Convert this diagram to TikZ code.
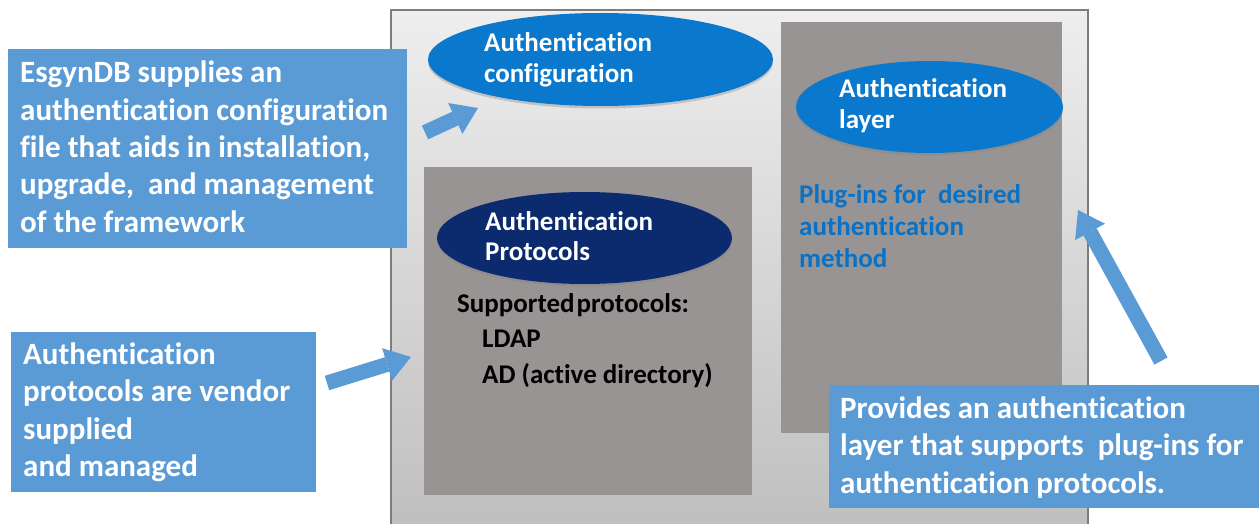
\documentclass[tikz,border=0pt]{standalone}
\usepackage{fontspec}
\setmainfont{Carlito}[Ligatures=NoCommon]
\usetikzlibrary{arrows.meta,shapes.geometric,shadows}

\definecolor{calloutblue}{HTML}{5B9BD5}
\definecolor{ovalblue}{HTML}{0A78CC}
\definecolor{ovalnavy}{HTML}{0B2B6E}
\definecolor{panelgray}{RGB}{152,148,147}
\definecolor{frameedge}{RGB}{125,125,125}
\definecolor{frametop}{RGB}{238,238,238}
\definecolor{framebottom}{RGB}{190,190,190}
\definecolor{pluginblue}{HTML}{0A72C6}

\begin{document}
\begin{tikzpicture}[x=1pt,y=-1pt,
  box/.style={rectangle, inner sep=0pt, outer sep=0pt, anchor=north west},
  callout/.style={box, fill=calloutblue},
  panel/.style={box, fill=panelgray},
  oval/.style={ellipse, inner sep=0pt, outer sep=0pt,
    drop shadow={shadow xshift=0pt, shadow yshift=-2.5pt, opacity=0.35}},
  % multi-line texts are placed by the baseline of their last line
  notetext/.style={anchor=base west, inner sep=0pt, align=left, text=white,
    font=\bfseries\fontsize{31}{37.3}\selectfont},
  ovaltext/.style={anchor=base west, inner sep=0pt, align=left, text=white,
    font=\bfseries\fontsize{27}{30.5}\selectfont},
  blockarrow/.style={draw=calloutblue, line width=15pt,
    -{Triangle[width=34pt,length=25pt,line width=0pt]}}]

\useasboundingbox (0,0) rectangle (1259,524);
\clip (0,0) rectangle (1259,524);

% outer framework panel
\node[box, draw=frameedge, line width=1.5pt, top color=frametop,
  bottom color=framebottom, minimum width=697pt, minimum height=530pt]
  (frame) at (391,10) {};

% inner grey panels
\node[panel, minimum width=328pt, minimum height=328pt] (protopanel) at (424,167) {};
\node[panel, minimum width=281pt, minimum height=411pt] (layerpanel) at (781,22) {};

% ovals
\node[oval, fill=ovalblue, minimum width=345pt, minimum height=93pt]
  (cfgoval) at (600.5,59.5) {};
\node[oval, fill=ovalblue, minimum width=267pt, minimum height=92pt]
  (layeroval) at (929.5,107) {};
\node[oval, fill=ovalnavy, minimum width=295pt, minimum height=92pt]
  (protooval) at (584.5,238) {};

\node[ovaltext] (cfgtext) at (484,82.5) {Authentication\\configuration};
\node[ovaltext] (layertext) at (839,128.5) {Authentication\\layer};
\node[ovaltext] (prototext) at (485,260.5) {Authentication\\Protocols};

% panel contents
\node[anchor=base west, inner sep=0pt, align=left, text=black,
  font=\bfseries\fontsize{27}{35.5}\selectfont] (protolist) at (457,383)
  {Supported\hspace{2pt}protocols:\\\hspace*{25pt}LDAP\\\hspace*{25pt}AD (active directory)};
\node[anchor=base west, inner sep=0pt, align=left, text=pluginblue,
  font=\bfseries\fontsize{27}{32}\selectfont] (plugtext) at (799,267)
  {Plug-ins for~ desired\\authentication\\method};

% callout boxes
\node[callout, minimum width=399pt, minimum height=199pt] (cfgnote) at (8,49) {};
\node[callout, minimum width=305pt, minimum height=160pt] (protonote) at (11,332) {};
\node[callout, minimum width=440pt, minimum height=123pt] (layernote) at (829,385) {};

\node[notetext] (cfgnotetext) at (20,232.2)
  {EsgynDB supplies an\\authentication configuration\\file that aids in installation,\\upgrade,~ and management\\of the framework};
\node[notetext] (protonotetext) at (23,476.5)
  {Authentication\\protocols are vendor\\supplied\\and managed};
\node[notetext] (layernotetext) at (840,493)
  {Provides an authentication\\layer that supports~ plug-ins for\\authentication protocols.};

% block arrows
\coordinate (cfgtail) at (425,132.5);
\coordinate (cfghead) at (478,108);
\coordinate (prototail) at (327,383);
\coordinate (protohead) at (411,357);
\coordinate (layertail) at (1161,361);
\coordinate (layerhead) at (1078,210);

\draw[blockarrow] (cfgtail) -- (cfghead);
\draw[blockarrow] (prototail) -- (protohead);
\draw[blockarrow] (layertail) -- (layerhead);

\end{tikzpicture}
\end{document}
